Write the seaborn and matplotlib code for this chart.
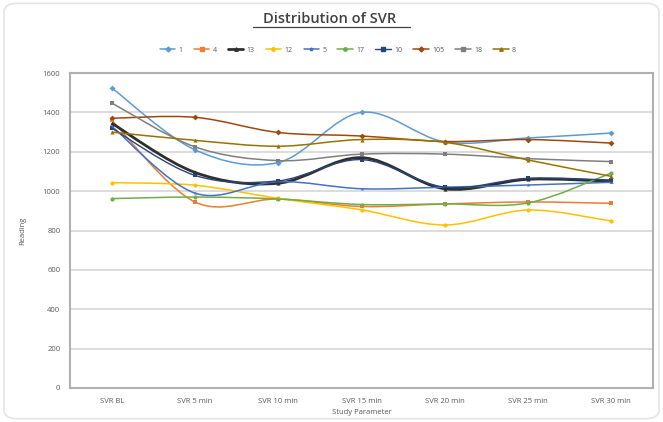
import numpy as np
import pandas as pd
import matplotlib
matplotlib.use("Agg")
import matplotlib.pyplot as plt
from matplotlib.path import Path
from matplotlib.patches import PathPatch, FancyBboxPatch
import seaborn as sns

categories = ["SVR BL", "SVR 5 min", "SVR 10 min", "SVR 15 min", "SVR 20 min", "SVR 25 min", "SVR 30 min"]
series_names = ["1", "4", "13", "12", "5", "17", "10", "105", "18", "8"]

s1 = [1525, 1210, 1145, 1400, 1250, 1270, 1295]
s2 = [1360, 945, 960, 922, 935, 945, 938]
s3 = [1345, 1095, 1040, 1170, 1012, 1060, 1050]
s4 = [1043, 1030, 963, 905, 828, 904, 848]
s5 = [1330, 990, 1048, 1012, 1020, 1031, 1045]
s6 = [962, 970, 960, 932, 935, 940, 1092]
s7 = [1320, 1080, 1052, 1160, 1020, 1065, 1056]
s8 = [1370, 1375, 1298, 1280, 1252, 1262, 1244]
s9 = [1448, 1225, 1155, 1188, 1188, 1165, 1150]
s10 = [1300, 1258, 1228, 1262, 1248, 1158, 1075]

all_series = [s1, s2, s3, s4, s5, s6, s7, s8, s9, s10]
colors = ["#5B9BD5", "#ED7D31", "#2f2f2f", "#FFC000", "#4472C4",
          "#70AD47", "#264478", "#9E480E", "#7F7F7F", "#997300"]
widths = [1.1, 1.1, 2.0, 1.1, 1.1, 1.1, 1.0, 1.1, 1.1, 1.1]
markers = ["D", "s", "^", "o", "*", "o", "s", "D", "s", "^"]

rows = []
for name, vals in zip(series_names, all_series):
    for c, v in zip(categories, vals):
        rows.append({"Study Parameter": c, "Reading": v, "Series": name})
df = pd.DataFrame(rows)

sns.set_theme(style="white")
plt.rcParams["font.family"] = ["Open Sans", "DejaVu Sans"]

fig = plt.figure(figsize=(6.63, 4.22), dpi=100)
ax = fig.add_axes([70 / 663, 34 / 422, 583 / 663, 315 / 422])

sns.lineplot(data=df, x="Study Parameter", y="Reading", hue="Series",
             hue_order=series_names, palette=colors, style="Series",
             style_order=series_names, markers=markers, dashes=False,
             markersize=3.0, linewidth=0, markeredgewidth=0,
             ax=ax, legend=False, sort=False)

# smooth (Excel-style) curves through each series' points
xpos = np.arange(len(categories), dtype=float)
for vals, col, lw in zip(all_series, colors, widths):
    pts = np.column_stack([xpos, np.asarray(vals, dtype=float)])
    ext = np.vstack([pts[0], pts, pts[-1]])
    verts = [tuple(pts[0])]
    codes = [Path.MOVETO]
    for i in range(len(pts) - 1):
        p0, p1, p2, p3 = ext[i], ext[i + 1], ext[i + 2], ext[i + 3]
        c1 = p1 + (p2 - p0) / 6.0
        c2 = p2 - (p3 - p1) / 6.0
        verts += [tuple(c1), tuple(c2), tuple(p2)]
        codes += [Path.CURVE4] * 3
    ax.add_patch(PathPatch(Path(verts, codes), facecolor="none",
                           edgecolor=col, lw=lw, zorder=2))

ax.set_xlim(-0.5, len(categories) - 0.5)
ax.set_ylim(0, 1600)
ax.set_yticks(range(0, 1601, 200))
ax.set_yticklabels([str(v) for v in range(0, 1601, 200)])
ax.yaxis.grid(True, color="#d6d6d6", linewidth=1.2)
ax.xaxis.grid(False)
for sp in ax.spines.values():
    sp.set_visible(True)
    sp.set_color("#b0b0b0")
    sp.set_linewidth(1.5)
ax.tick_params(axis="both", labelsize=5.5, colors="#595959", length=0, pad=7)
ax.set_xlabel("Study Parameter", fontsize=5.5, color="#595959", labelpad=3)
ax.set_ylabel("Reading", fontsize=5.5, color="#595959", labelpad=12)

fig.text(0.497, 0.955, "Distribution of SVR", ha="center", va="center",
         fontsize=10.5, color="#404040", fontweight="semibold")
# underline
fig.add_artist(plt.Line2D([253 / 663, 410 / 663], [1 - 27 / 422, 1 - 27 / 422],
                          color="#404040", lw=0.9))

# faint chart-area border
fig.add_artist(FancyBboxPatch((0.006, 0.008), 0.988, 0.984,
                              boxstyle="round,pad=0,rounding_size=0.02",
                              transform=fig.transFigure, facecolor="none",
                              edgecolor="#e4e4e4", lw=1.2))

handles = [plt.Line2D([], [], color=c, lw=lw, marker=m, markersize=2.5)
           for c, lw, m in zip(colors, widths, markers)]
fig.legend(handles, series_names, loc="center", bbox_to_anchor=(0.51, 1 - 50 / 422),
           ncol=10, frameon=False, fontsize=5, handlelength=2.2,
           columnspacing=1.6, handletextpad=0.5, labelcolor="#595959")

fig.savefig("out.png", dpi=100, facecolor="white")
